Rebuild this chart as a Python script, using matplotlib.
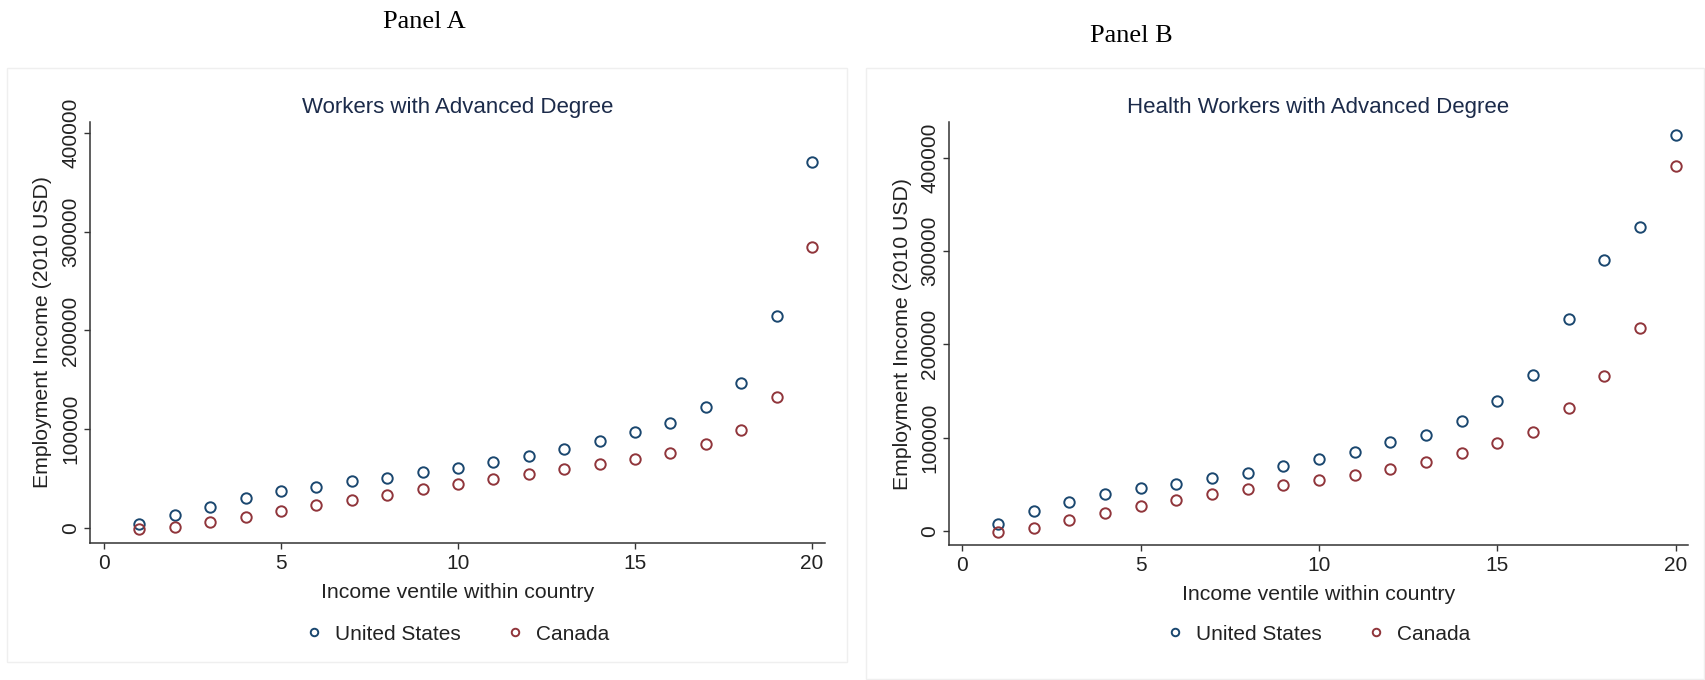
import matplotlib
matplotlib.use('Agg')
import matplotlib.pyplot as plt
from matplotlib.patches import Rectangle

# Income ventiles 1-20 (2010 USD)
ventile = [1, 2, 3, 4, 5, 6, 7, 8, 9, 10, 11, 12, 13, 14, 15, 16, 17, 18, 19, 20]

us_adv = [4000, 12900, 21600, 30400, 37500, 41900, 47300, 51000, 56700, 61100,
          67200, 72900, 79700, 87800, 97300, 106400, 122600, 147200, 214800, 370100]
ca_adv = [-1500, 700, 6100, 11500, 17200, 23000, 28700, 33800, 39200, 44600,
          49300, 54400, 59400, 64500, 70200, 76300, 85100, 99300, 132400, 284700]

us_health = [7500, 21100, 31400, 39600, 46400, 50300, 57100, 62500, 69600, 77100,
             84900, 95300, 103100, 118100, 139200, 166700, 227000, 290500, 325800, 424700]
ca_health = [-1400, 2900, 11800, 19600, 26800, 33500, 39600, 45300, 49600, 54600,
             60000, 66400, 73500, 83200, 94600, 106300, 131300, 165600, 217700, 391200]

x_ticks = [0, 5, 10, 15, 20]
y_ticks = [0, 100000, 200000, 300000, 400000]

W, H = 1705, 680
US_COL = '#1a476f'
CA_COL = '#90353b'
TXT = '#222222'

plt.rcParams['font.family'] = ['Liberation Sans', 'DejaVu Sans']

fig = plt.figure(figsize=(W / 100, H / 100), dpi=100)
fig.patch.set_facecolor('white')


def fx(px):
    return px / W


def fy(py):
    return 1 - py / H


# faint panel frames
fig.patches.append(Rectangle((fx(7), fy(662)), fx(840), (662 - 68) / H,
                             transform=fig.transFigure, fill=False,
                             edgecolor='#efefef', linewidth=1))
fig.patches.append(Rectangle((fx(866), fy(679)), fx(838), (679 - 68) / H,
                             transform=fig.transFigure, fill=False,
                             edgecolor='#efefef', linewidth=1))

panels = [
    dict(box=(90, 122, 825, 543), xlim=(-0.395, 20.37), ylim=(-15190, 411100),
         us=us_adv, ca=ca_adv, title='Workers with Advanced Degree',
         panel='Panel A', panel_xy=(424, 22), ylab_x=43, xlab_y=592),
    dict(box=(949, 122, 1688, 545), xlim=(-0.37, 20.35), ylim=(-14990, 438200),
         us=us_health, ca=ca_health, title='Health Workers with Advanced Degree',
         panel='Panel B', panel_xy=(1131, 36), ylab_x=902, xlab_y=595),
]

for p in panels:
    x0, y0, x1, y1 = p['box']
    ax = fig.add_axes([fx(x0), fy(y1), (x1 - x0) / W, (y1 - y0) / H])
    ax.plot(ventile, p['us'], linestyle='none', marker='o', markersize=7.5,
            markerfacecolor='none', markeredgecolor=US_COL, markeredgewidth=1.4,
            label='United States')
    ax.plot(ventile, p['ca'], linestyle='none', marker='o', markersize=7.5,
            markerfacecolor='none', markeredgecolor=CA_COL, markeredgewidth=1.4,
            label='Canada')
    ax.set_xlim(*p['xlim'])
    ax.set_ylim(*p['ylim'])
    ax.set_xticks(x_ticks)
    ax.set_yticks(y_ticks)
    ax.set_yticklabels([str(v) for v in y_ticks], rotation=90, va='center')
    for s in ['top', 'right']:
        ax.spines[s].set_visible(False)
    for s in ['left', 'bottom']:
        ax.spines[s].set_color('#333333')
        ax.spines[s].set_linewidth(1.1)
    ax.tick_params(axis='both', direction='out', length=4, width=1,
                   color='#333333', labelsize=15, labelcolor=TXT)
    ax.tick_params(axis='x', pad=4)
    ax.tick_params(axis='y', pad=3)

    cx = (x0 + x1) / 2
    fig.text(fx(cx), fy(107), p['title'], ha='center', va='center',
             fontsize=16, color='#1c2b4a')
    fig.text(fx(p['ylab_x']), fy((y0 + y1) / 2), 'Employment Income (2010 USD)',
             ha='center', va='center', rotation=90, fontsize=15.3, color=TXT)
    fig.text(fx(cx), fy(p['xlab_y']), 'Income ventile within country',
             ha='center', va='center', fontsize=15.3, color=TXT)
    fig.text(fx(p['panel_xy'][0]), fy(p['panel_xy'][1]), p['panel'],
             ha='center', va='center', fontsize=19, color='black',
             family=['Liberation Serif', 'DejaVu Serif'])
    ax.legend(loc='center', bbox_to_anchor=(fx(cx), fy(634)),
              bbox_transform=fig.transFigure, ncol=2, frameon=False,
              fontsize=15, markerscale=0.72, handlelength=0.8,
              handletextpad=0.6, columnspacing=2.2, numpoints=1,
              labelcolor=TXT)

fig.savefig('out.png', dpi=100, facecolor='white')
